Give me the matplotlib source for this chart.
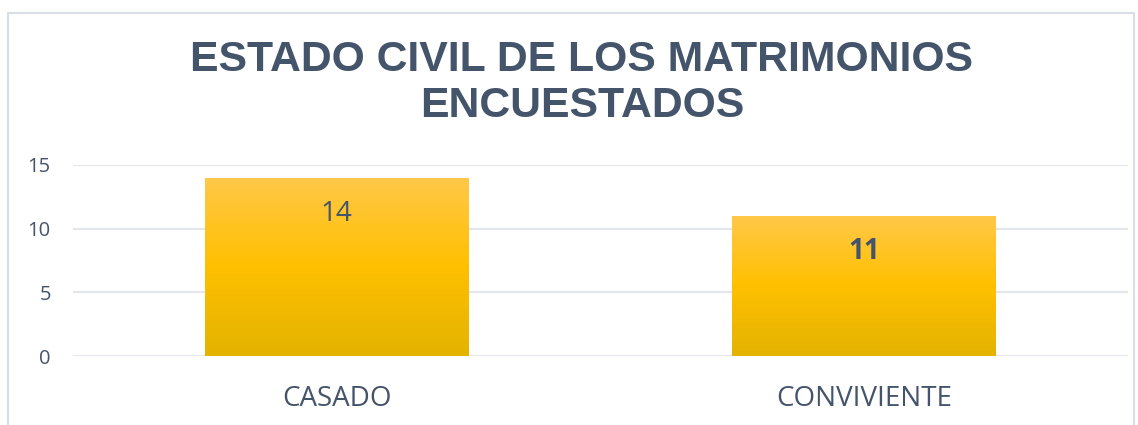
import matplotlib.pyplot as plt
import numpy as np
from matplotlib.colors import LinearSegmentedColormap
from matplotlib.patches import Rectangle

categories = ["CASADO", "CONVIVIENTE"]
values = [14, 11]
label_bold = [False, True]
title = "ESTADO CIVIL DE LOS MATRIMONIOS\nENCUESTADOS"

text_color = "#44546A"
grid_color = "#E3E6EA"

fig = plt.figure(figsize=(11.38, 4.25), dpi=100)
W, H = 1138, 425

# chart border (partially cut off like the source)
fig.patches.append(Rectangle((8 / W, -0.05), (1134 - 8) / W, (425 - 13) / H + 0.05,
                             transform=fig.transFigure, fill=False,
                             edgecolor="#D9DEE5", linewidth=1.5))

ax = fig.add_axes([73 / W, 1 - 356 / H, (1128 - 73) / W, (356 - 165) / H])
ax.set_xlim(-0.5, 1.5)
ax.set_ylim(0, 15)

grad = LinearSegmentedColormap.from_list("bar", ["#E3B300", "#FFC000", "#FFC849"])
gradient = np.linspace(0, 1, 256).reshape(-1, 1)

bars = ax.bar(range(len(categories)), values, width=0.5, color="none", zorder=3)
for bar in bars:
    x0, w, h = bar.get_x(), bar.get_width(), bar.get_height()
    im = ax.imshow(gradient, cmap=grad, aspect="auto", origin="lower",
                   extent=[x0, x0 + w, 0, h], zorder=3)
    im.set_clip_path(bar)

for i, (v, b) in enumerate(zip(values, label_bold)):
    ax.annotate(str(v), (i, v), xytext=(0, -36), textcoords="offset pixels",
                ha="center", va="center", fontsize=20,
                fontweight="bold" if b else "normal", color=text_color,
                family="Open Sans", zorder=4)

ax.set_yticks([0, 5, 10, 15])
ax.set_xticks(range(len(categories)))
ax.set_xticklabels(categories, fontsize=20, color=text_color, family="Open Sans")
ax.tick_params(axis="y", labelsize=14.5, labelcolor=text_color, length=0, pad=16)
ax.tick_params(axis="x", length=0, pad=21)
for lbl in ax.get_yticklabels():
    lbl.set_family("Open Sans")
ax.grid(axis="y", color=grid_color, linewidth=1.5, zorder=0)
ax.set_axisbelow(True)
for s in ax.spines.values():
    s.set_visible(False)

fig.text(582 / W, 1 - 83 / H, title, ha="center", va="center", fontsize=30.8,
         fontweight="bold", color=text_color, family="Liberation Sans",
         linespacing=1.22)

fig.savefig("out.png", dpi=100)
